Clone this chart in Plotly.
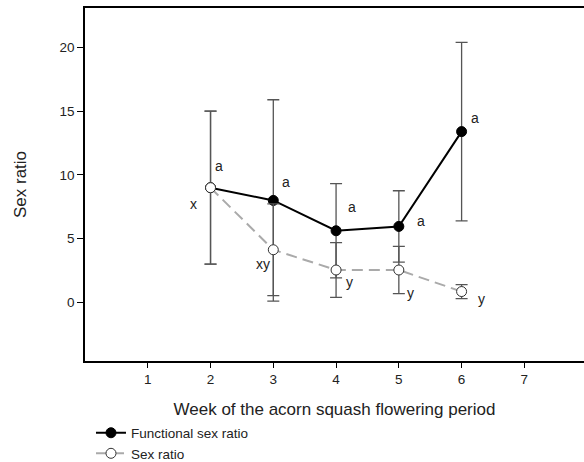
import plotly.graph_objects as go

weeks = [2, 3, 4, 5, 6]
functional_ratio = [9.0, 8.0, 5.62, 5.96, 13.4]
functional_err = [6.0, 7.9, 3.7, 2.8, 7.0]
sex_ratio = [9.0, 4.13, 2.54, 2.54, 0.85]
sex_err = [6.0, 3.6, 2.15, 1.85, 0.55]
functional_letters = ["a", "a", "a", "a", "a"]
sex_letters = ["x", "xy", "y", "y", "y"]
x_ticks = [1, 2, 3, 4, 5, 6, 7]
y_ticks = [0, 5, 10, 15, 20]

# label offsets (styling / placement)
f_dx = [0.14, 0.21, 0.25, 0.35, 0.21]
f_dy = [1.67, 1.41, 1.83, 0.39, 1.1]
s_dx = [-0.27, -0.16, 0.21, 0.19, 0.32]
s_dy = [-1.31, -1.15, -0.97, -1.84, -0.61]

fig = go.Figure()
err_color = "#555555"
fig.add_trace(go.Scatter(
    x=weeks, y=functional_ratio, name="Functional sex ratio",
    mode="lines+markers",
    line=dict(color="black", width=2),
    marker=dict(color="black", size=10, line=dict(color="black", width=1)),
    error_y=dict(type="data", array=functional_err, visible=True,
                 color=err_color, thickness=1.3, width=6),
))
fig.add_trace(go.Scatter(
    x=weeks, y=sex_ratio, name="Sex ratio",
    mode="lines+markers",
    line=dict(color="#aaaaaa", width=2, dash="11px,6px"),
    marker=dict(color="white", size=10, line=dict(color="#333333", width=1)),
    error_y=dict(type="data", array=sex_err, visible=True,
                 color=err_color, thickness=1.3, width=6),
))

ann = []
for i, w in enumerate(weeks):
    ann.append(dict(x=w + f_dx[i], y=functional_ratio[i] + f_dy[i], text=functional_letters[i],
                    showarrow=False, font=dict(size=14, color="#222")))
    ann.append(dict(x=w + s_dx[i], y=sex_ratio[i] + s_dy[i], text=sex_letters[i],
                    showarrow=False, font=dict(size=14, color="#222")))

fig.update_layout(
    width=584, height=462,
    margin=dict(l=85, r=0, t=8, b=101, autoexpand=False),
    paper_bgcolor="white", plot_bgcolor="white",
    font=dict(family="Liberation Sans, Arial, sans-serif", color="#222"),
    annotations=ann,
    showlegend=True,
    legend=dict(x=0.012, y=-0.16,
                xanchor="left", yanchor="top", font=dict(size=13.5, color="#222"),
                bgcolor="rgba(0,0,0,0)", itemwidth=30, tracegroupgap=0),
    xaxis=dict(range=[0, 7.95], tickvals=x_ticks, showline=True, linecolor="black",
               linewidth=1.5, mirror=True, ticks="outside", ticklen=5, tickcolor="black",
               showgrid=False, zeroline=False, tickfont=dict(size=13.5),
               title=dict(text="Week of the acorn squash flowering period",
                          font=dict(size=17), standoff=17)),
    yaxis=dict(range=[-4.6, 23.1], tickvals=y_ticks, showline=True, linecolor="black",
               linewidth=1.5, mirror=False, ticks="outside", ticklen=6, tickcolor="black",
               showgrid=False, zeroline=False, tickfont=dict(size=13.5),
               title=dict(text="Sex ratio", font=dict(size=17), standoff=29)),
)
fig.write_html("out.html")
